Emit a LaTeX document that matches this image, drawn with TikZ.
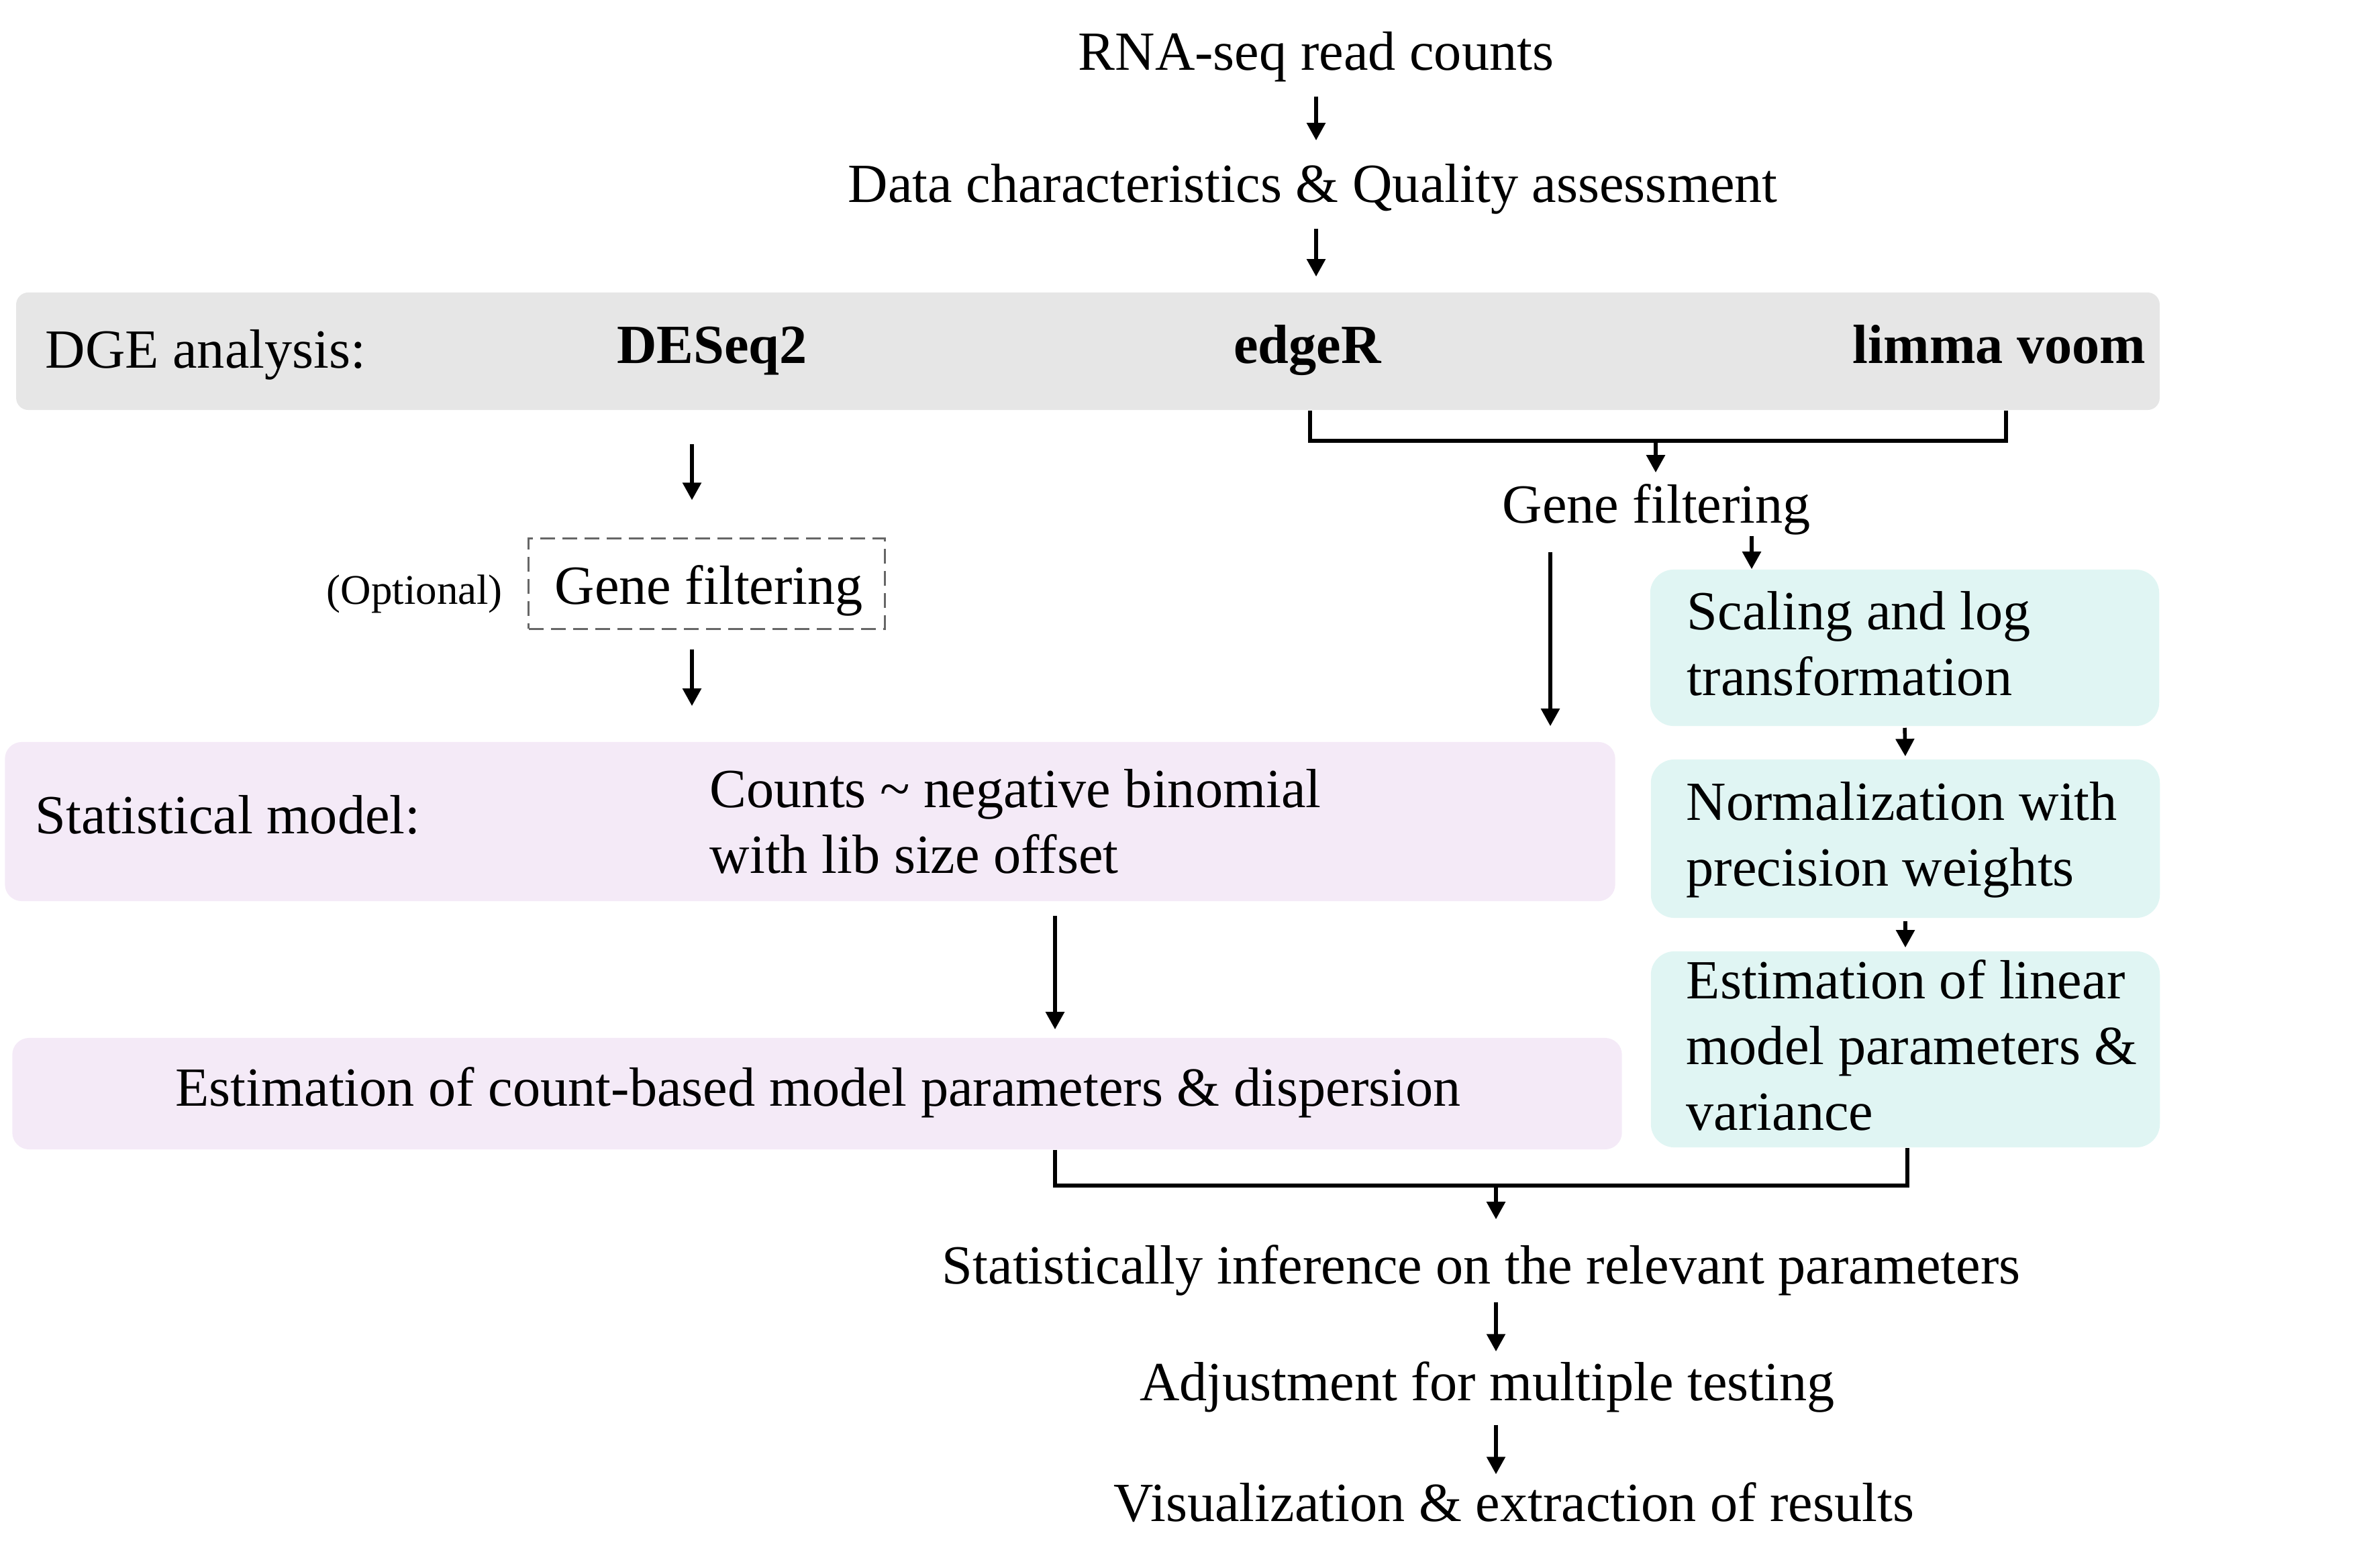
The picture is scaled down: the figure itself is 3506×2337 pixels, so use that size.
\documentclass[tikz,border=0pt]{standalone}
\usepackage{fontspec}
\setmainfont{Liberation Serif}
\usetikzlibrary{arrows.meta}
\definecolor{greyfill}{HTML}{E6E6E6}
\definecolor{pinkfill}{HTML}{F4EAF7}
\definecolor{cyanfill}{HTML}{E0F5F3}
\definecolor{dashgrey}{HTML}{666666}
\begin{document}
\begin{tikzpicture}[x=0.01cm, y=-0.01cm,
  mainfont/.style={font=\fontsize{23.4pt}{28pt}\selectfont},
  txt/.style={mainfont, inner sep=0pt, text height=0.56cm, text depth=0.18cm, anchor=base},
  txtw/.style={txt, anchor=base west},
  blk/.style={mainfont, inner sep=0pt, anchor=base west},
  panel/.style={draw=none, inner sep=0pt},
  ln/.style={line width=0.055cm},
  arr/.style={ln, -{Triangle[length=0.26cm,width=0.27cm]}},
]
\useasboundingbox (0,0) rectangle (3506,2337);

% ---------- panels ----------
\node[panel, fill=greyfill, rounded corners=0.18cm, minimum width=31.92cm, minimum height=1.75cm] (dge) at (1621,523.5) {};
\node[panel, fill=pinkfill, rounded corners=0.25cm, minimum width=23.98cm, minimum height=2.37cm] (stat) at (1207,1224.5) {};
\node[panel, fill=pinkfill, rounded corners=0.25cm, minimum width=23.97cm, minimum height=1.66cm] (estc) at (1217.5,1630) {};
\node[panel, fill=cyanfill, rounded corners=0.35cm, minimum width=7.58cm, minimum height=2.33cm] (scal) at (2838,965.5) {};
\node[panel, fill=cyanfill, rounded corners=0.35cm, minimum width=7.58cm, minimum height=2.36cm] (norm) at (2839,1250) {};
\node[panel, fill=cyanfill, rounded corners=0.35cm, minimum width=7.58cm, minimum height=2.92cm] (estl) at (2839,1564) {};
\node[draw=dashgrey, line width=0.03cm, dash pattern=on 0.22cm off 0.11cm, inner sep=0pt, minimum width=5.30cm, minimum height=1.34cm] (dashed) at (1053,870) {};

% ---------- texts ----------
\node[txt] (rna) at (1961,105) {RNA-seq read counts};
\node[txt] (data) at (1956,302) {Data characteristics \& Quality assessment};

\node[txtw] (dgelabel) at (67,549) {DGE analysis:};
\node[txt, font=\fontsize{23.4pt}{28pt}\selectfont\bfseries] (deseq) at (1061,542) {DESeq2};
\node[txt, font=\fontsize{23.4pt}{28pt}\selectfont\bfseries] (edger) at (1948,542) {edgeR};
\node[txt, font=\fontsize{23.4pt}{28pt}\selectfont\bfseries] (limma) at (2979,542) {limma voom};

\node[txtw] (gfr) at (2238,780) {Gene filtering};
\node[txtw] (gfl) at (826,900) {Gene filtering};
\node[inner sep=0pt, anchor=base west, font=\fontsize{17.9pt}{21pt}\selectfont] (opt) at (486,900) {(Optional)};

\node[blk] (scaltext) at (2513,938) {\parbox[t]{7cm}{\raggedright Scaling and log\\transformation}};
\node[blk] (normtext) at (2512,1222) {\parbox[t]{7cm}{\raggedright Normalization with\\precision weights}};
\node[blk] (estltext) at (2512,1488) {\parbox[t]{7cm}{\raggedright Estimation of linear\\model parameters \&\\variance}};

\node[txtw] (statlabel) at (52,1242) {Statistical model:};
\node[blk] (counts) at (1057,1203) {\parbox[t]{12cm}{\raggedright Counts \textasciitilde\ negative binomial\\with lib size offset}};
\node[txt] (estctext) at (1219,1648) {Estimation of count-based model parameters \& dispersion};

\node[txt] (statinf) at (2207,1913) {Statistically inference on the relevant parameters};
\node[txt] (adjust) at (2216,2087) {Adjustment for multiple testing};
\node[txt] (vis) at (2256,2267) {Visualization \& extraction of results};

% ---------- junction coordinates ----------
\coordinate (tl) at (1952,657);
\coordinate (tr) at (2989,657);
\coordinate (jt) at (2467,657);
\coordinate (bl) at (1572,1767);
\coordinate (br) at (2842,1767);
\coordinate (jb) at (2229,1767);
\coordinate (dcol) at (1031,0);
\coordinate (ecol) at (2310,0);
\coordinate (scol) at (2610,0);

% ---------- connectors ----------
\draw[arr, shorten <=0.20cm, shorten >=0.36cm] (rna.south) -- (rna.south |- data.north);
\draw[arr, shorten <=0.20cm, shorten >=0.23cm] (rna.south |- data.south) -- (rna.south |- dge.north);

\draw[arr, shorten <=0.50cm, shorten >=0.56cm] (dcol |- dge.south) -- (dcol |- dashed.north);
\draw[arr, shorten <=0.29cm, shorten >=0.53cm] (dcol |- dashed.south) -- (dcol |- stat.north);

\draw[ln] (tl |- dge.south) -- (tl) -- (tr) -- (tr |- dge.south);
\draw[arr, shorten >=0.19cm] (jt) -- (jt |- gfr.north);

\draw[arr] (scol |- gfr.south) -- (scol |- scal.north);
\draw[arr, shorten <=0.24cm, shorten >=0.23cm] (ecol |- gfr.south) -- (ecol |- stat.north);

\draw[arr, shorten <=0.02cm, shorten >=0.04cm] (scal.south) -- (norm.north);
\draw[arr, shorten <=0.04cm, shorten >=0.05cm] (norm.south) -- (estl.north);

\draw[arr, shorten <=0.21cm, shorten >=0.12cm] (bl |- stat.south) -- (bl |- estc.north);

\draw[ln] (bl |- estc.south) -- (bl) -- (br) -- (br |- estl.south);
\draw[arr, shorten >=0.39cm] (jb) -- (jb |- statinf.north);

\draw[arr, shorten <=0.09cm, shorten >=0.16cm] (jb |- statinf.south) -- (jb |- adjust.north);
\draw[arr, shorten <=0.18cm, shorten >=0.13cm] (jb |- adjust.south) -- (jb |- vis.north);
\end{tikzpicture}
\end{document}
